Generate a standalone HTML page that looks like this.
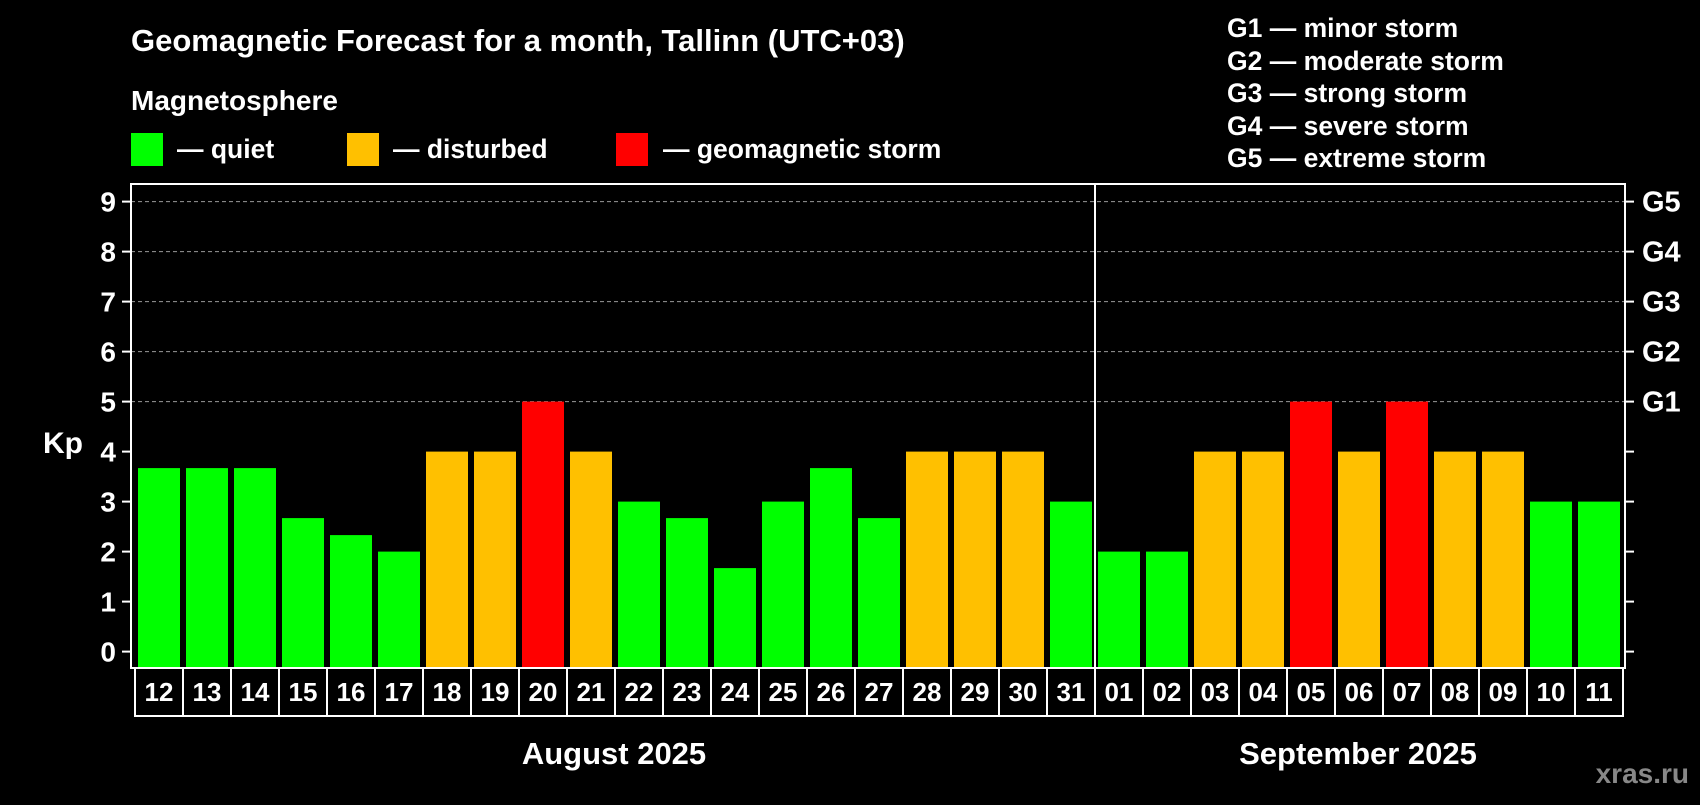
<!DOCTYPE html>
<html><head><meta charset="utf-8"><style>
body{margin:0;background:#000;width:1700px;height:800px;overflow:hidden;font-family:"Liberation Sans",sans-serif;font-weight:bold;color:#fff}
svg text{font-family:"Liberation Sans",sans-serif;font-weight:bold;fill:#fff}
</style></head><body>
<svg id="chart" width="1700" height="800" viewBox="0 0 1700 800">
<text x="131" y="51" font-size="31">Geomagnetic Forecast for a month, Tallinn (UTC+03)</text>
<text x="131" y="110" font-size="28">Magnetosphere</text>
<rect x="131" y="133" width="32" height="33" fill="#00ff00"/>
<text x="177" y="158" font-size="26.5">— quiet</text>
<rect x="347" y="133" width="32" height="33" fill="#ffc000"/>
<text x="393" y="158" font-size="26.5">— disturbed</text>
<rect x="616" y="133" width="32" height="33" fill="#ff0000"/>
<text x="663" y="158" font-size="26.5">— geomagnetic storm</text>
<g font-size="26.5">
<text x="1227" y="37">G1 — minor storm</text>
<text x="1227" y="70">G2 — moderate storm</text>
<text x="1227" y="102">G3 — strong storm</text>
<text x="1227" y="135">G4 — severe storm</text>
<text x="1227" y="167">G5 — extreme storm</text>
</g>
<g id="grid"></g><g id="bars"></g><g id="axes"></g>
<text x="63" y="453" font-size="30" text-anchor="middle">Kp</text>
<text x="614" y="764" font-size="31" text-anchor="middle">August 2025</text>
<text x="1358" y="764" font-size="31" text-anchor="middle">September 2025</text>
<text x="1689" y="783" font-size="28" text-anchor="end" style="fill:#888">xras.ru</text>
</svg>
<script>
const days=["12","13","14","15","16","17","18","19","20","21","22","23","24","25","26","27","28","29","30","31","01","02","03","04","05","06","07","08","09","10","11"];
const kpValues=[3.67,3.67,3.67,2.67,2.33,2,4,4,5,4,3,2.67,1.67,3,3.67,2.67,4,4,4,3,2,2,4,4,5,4,5,4,4,3,3];
const yTicks=[0,1,2,3,4,5,6,7,8,9];
const gLabels=["G1","G2","G3","G4","G5"];
const NS="http://www.w3.org/2000/svg";
const L=131,R=1625,T=184,B=668,X0=135,step=48,LB=716;
const y=v=>651.6-v*50;
const x=i=>X0+i*step;
function mk(tag,attrs,parent){const e=document.createElementNS(NS,tag);for(const k in attrs)e.setAttribute(k,attrs[k]);document.getElementById(parent).appendChild(e);return e;}
yTicks.forEach(v=>{
 if(v>=5){const g=mk('line',{x1:L,x2:R,y1:y(v),y2:y(v),stroke:'#999','stroke-dasharray':'4,3','stroke-width':1},'grid');
 
 }
 const t=mk('line',{x1:L-9,x2:L,y1:y(v),y2:y(v),stroke:'#fff','stroke-width':2},'axes');
 
 
 const t2=mk('line',{x1:R,x2:R+9,y1:y(v),y2:y(v),stroke:'#fff','stroke-width':2},'axes');
 
 
 const lb=mk('text',{x:L-15,y:y(v)+10,'font-size':28,'text-anchor':'end'},'axes');lb.textContent=v;
 
 
});
gLabels.forEach((g,i)=>{const t=mk('text',{x:R+17,y:y(5+i)+10,'font-size':29},'axes');t.textContent=g;
 
 });
kpValues.forEach((v,i)=>{
 const c=v>=5?'#ff0000':(v>=4?'#ffc000':'#00ff00');
 const r=mk('rect',{x:x(i)+3,y:y(v),width:42,height:B-1-y(v),fill:c},'bars');
 
 
 const cell=mk('rect',{x:x(i),y:B,width:step,height:LB-B,fill:'none',stroke:'#fff','stroke-width':2},'axes');
 
 
 const t=mk('text',{x:x(i)+step/2,y:B+33,'font-size':26,'text-anchor':'middle'},'axes');t.textContent=days[i];
 
 
});
const fr=mk('rect',{x:L,y:T,width:R-L,height:B-T,fill:'none',stroke:'#fff','stroke-width':2},'axes');


const idx=days.indexOf("01");
const dv=mk('line',{x1:x(idx),x2:x(idx),y1:T,y2:B,stroke:'#fff','stroke-width':2},'axes');


</script>
</body></html>
